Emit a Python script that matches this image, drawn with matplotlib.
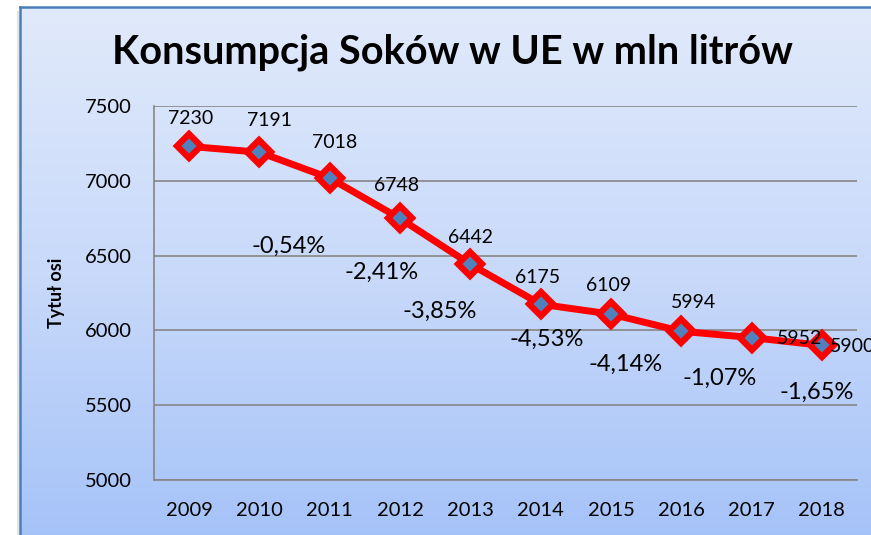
import numpy as np
import matplotlib
matplotlib.use("Agg")
import matplotlib.pyplot as plt
from matplotlib.colors import LinearSegmentedColormap
from matplotlib.lines import Line2D

# data
years = ["2009", "2010", "2011", "2012", "2013", "2014", "2015", "2016", "2017", "2018"]
consumption = [7230, 7191, 7018, 6748, 6442, 6175, 6109, 5994, 5952, 5900]
change_labels = ["-0,54%", "-2,41%", "-3,85%", "-4,53%", "-4,14%", "-1,07%", "-1,65%"]

# where the free-floating percent text boxes sit (category index, axis value)
change_pos = [(1.41, 6564), (2.74, 6390), (3.57, 6130), (5.09, 5943),
              (6.21, 5776), (7.54, 5682), (8.92, 5588)]
# value label offsets in pixels (dx, dy)
label_off = [(1, 28), (10, 32), (5, 36), (-3, 33), (0, 27),
             (-3, 27), (-2, 29), (12, 29), (48, -1), (31, -1)]

plt.rcParams['font.family'] = ['Lato', 'DejaVu Sans']

W, H = 871, 535
fig = plt.figure(figsize=(W / 100, H / 100), dpi=100)
fig.patch.set_facecolor("white")

# gradient chart background, running past the right and bottom edges
bg = fig.add_axes([20 / W, -0.02, 1.0, (H - 7) / H + 0.02], zorder=-2)
cmap = LinearSegmentedColormap.from_list("bg", ["#e1eafb", "#c8d9fa", "#a4c2f8"])
grad = np.linspace(0, 1, 256).reshape(-1, 1)
bg.imshow(grad, aspect="auto", cmap=cmap, extent=[0, 1, 0, 1], origin="upper")
bg.set_axis_off()

top = 1 - 7 / H
fig.add_artist(Line2D([20 / W, 20 / W], [0, top], transform=fig.transFigure,
                      color="#4a7ebb", lw=1.8, zorder=-1))
fig.add_artist(Line2D([20 / W, 1], [top, top], transform=fig.transFigure,
                      color="#4a7ebb", lw=1.8, zorder=-1))
fig.add_artist(Line2D([18 / W, 18 / W], [0, top - 0.01], transform=fig.transFigure,
                      color="#e4e4e4", lw=1.5, zorder=-3))

ax = fig.add_axes([154 / W, 1 - 480 / H, 703 / W, 374 / H])
ax.set_facecolor("none")
x = np.arange(len(years))
ax.plot(x, consumption, color="#ff0000", lw=5, marker="D", ms=12,
        markerfacecolor="#4f81bd", markeredgecolor="#ff0000", mew=4.5,
        solid_joinstyle="round", zorder=3, clip_on=False)

for xi, v, (dx, dy) in zip(x, consumption, label_off):
    ax.annotate(str(v), (xi, v), xytext=(dx, dy), textcoords="offset pixels",
                ha="center", va="center", fontsize=14, color="black",
                annotation_clip=False, zorder=4)

for txt, (px, py) in zip(change_labels, change_pos):
    ax.text(px, py, txt, ha="center", va="center", fontsize=17, color="black", zorder=4)

ax.set_xlim(-0.5, len(years) - 0.5)
ax.set_ylim(5000, 7500)
ax.set_yticks(np.arange(5000, 7501, 500))
ax.set_xticks(x)
ax.set_xticklabels(years)
ax.tick_params(axis="both", length=0, labelsize=14.5, pad=16)
ax.grid(axis="y", color="#868686", lw=1.2)
ax.set_axisbelow(True)
for s in ["top", "right"]:
    ax.spines[s].set_visible(False)
for s in ["left", "bottom"]:
    ax.spines[s].set_color("#868686")
    ax.spines[s].set_linewidth(1.2)

ax.set_ylabel("Tytuł osi", fontsize=13, fontweight="bold")
ax.yaxis.set_label_coords(-89 / 703, 0.5)

fig.text(452 / W, 1 - 52 / H, "Konsumpcja Soków w UE w mln litrów",
         ha="center", va="center", fontsize=28.5, fontweight="bold")

fig.savefig("out.png", dpi=100)
